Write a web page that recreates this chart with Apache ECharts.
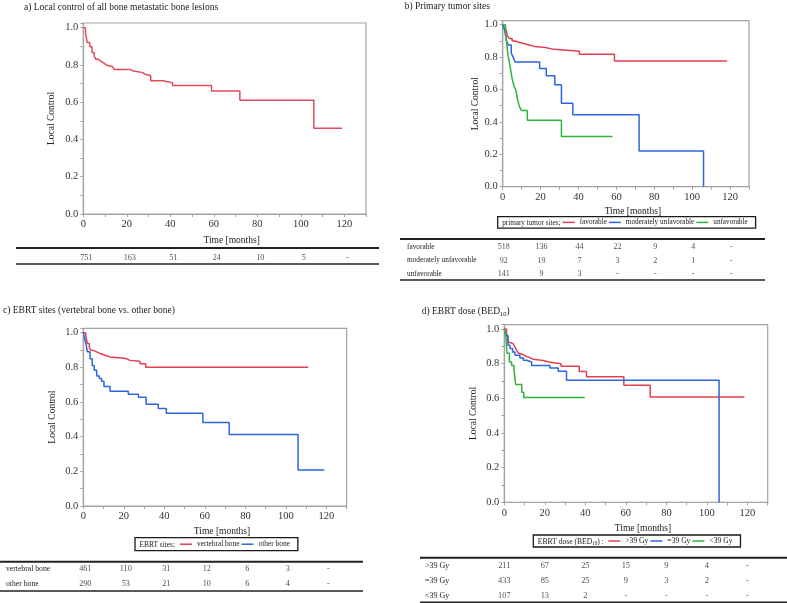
<!DOCTYPE html>
<html><head><meta charset="utf-8">
<script src="https://cdn.jsdelivr.net/npm/echarts@6/dist/echarts.min.js"></script>
<style>html,body{margin:0;padding:0;background:#fff}#c{width:787px;height:603px}</style>
</head><body><div id="c"></div>
<script>
// ---------- DATA ----------
const xTicks = [0, 20, 40, 60, 80, 100, 120];

// a) all lesions
const allLesions = [[0,1],[1,0.973],[1.8,0.92],[3,0.897],[4,0.867],[5,0.847],[5.8,0.83],[7,0.82],[8,0.81],[9.5,0.80],[10.5,0.79],[13.5,0.78],[14.3,0.775],[21.8,0.768],[22.8,0.76],[27,0.75],[28.5,0.742],[31,0.715],[36.6,0.705],[41,0.69],[59,0.66],[72,0.61],[106,0.46],[119,0.46]];

// b) primary tumor sites
const favorable = [[0,1],[1,0.98],[2,0.96],[2.5,0.93],[3.5,0.915],[5,0.90],[6.5,0.89],[9,0.883],[11.5,0.875],[14,0.865],[17,0.86],[22.5,0.848],[27,0.84],[28,0.836],[40.5,0.818],[59,0.776],[118.5,0.776]];
const modUnfavorable = [[0,1],[1,0.965],[2,0.90],[3,0.875],[4.5,0.825],[5.5,0.80],[6.5,0.77],[19.5,0.73],[23,0.685],[27.5,0.63],[31,0.515],[37,0.445],[72,0.22],[106,0]];
const unfavorable = [[0,1],[1.5,0.955],[2,0.90],[2.5,0.84],[3,0.80],[4,0.735],[5,0.665],[6,0.62],[7,0.595],[8,0.53],[9,0.49],[10,0.47],[13,0.41],[31,0.31],[58,0.31]];

// c) EBRT sites
const vertebral = [[0,1],[1.2,0.985],[2,0.937],[3,0.912],[3.8,0.898],[4.9,0.889],[6.6,0.88],[8.2,0.87],[10.7,0.86],[13.2,0.854],[19,0.85],[21.4,0.84],[23,0.835],[28,0.82],[30.8,0.80],[111,0.80]];
const otherBone = [[0,1],[0.8,0.96],[1.5,0.925],[2,0.89],[3.3,0.85],[4.4,0.81],[5.4,0.783],[6.6,0.75],[7.9,0.735],[9,0.72],[10.2,0.69],[13.2,0.662],[22.2,0.645],[27.2,0.628],[31,0.587],[37,0.563],[41,0.535],[59,0.482],[72,0.413],[106,0.207],[119,0.207]];

// d) EBRT dose
const gt39 = [[0,1],[1.1,0.973],[2,0.925],[2.8,0.915],[4.4,0.906],[5.3,0.896],[6.1,0.877],[6.9,0.862],[7.7,0.852],[9.4,0.842],[10.7,0.835],[12.6,0.825],[14.3,0.818],[19.2,0.81],[22,0.80],[28,0.785],[37,0.755],[40.6,0.725],[59,0.675],[72,0.608],[118.5,0.608]];
const eq39 = [[0,1],[0.8,0.963],[1.8,0.906],[2.8,0.887],[4.1,0.867],[5.3,0.848],[7.7,0.833],[9.4,0.82],[11,0.81],[13.5,0.79],[22.5,0.775],[26.6,0.757],[30.7,0.704],[106,0]];
const lt39 = [[0,1],[0.8,0.96],[1.3,0.86],[2.5,0.81],[3.6,0.79],[4.8,0.765],[5.6,0.68],[8.6,0.635],[9.6,0.605],[39.7,0.605]];

// numbers at risk
const riskARows = [''];
const riskA = [[751,163,51,24,10,5,'-']];
const riskBRows = ['favorable','moderately unfavorable','unfavorable'];
const riskB = [[518,136,44,22,9,4,'-'],[92,19,7,3,2,1,'-'],[141,9,3,'-','-','-','-']];
const riskCRows = ['vertebral bone','other bone'];
const riskC = [[461,110,31,12,6,3,'-'],[290,53,21,10,6,4,'-']];
const riskDRows = ['>39 Gy','=39 Gy','<39 Gy'];
const riskD = [[211,67,25,15,9,4,'-'],[433,85,25,9,3,2,'-'],[107,13,2,'-','-','-','-']];

// ---------- LAYOUT / STYLE ----------
const FONT = '"Liberation Serif","Times New Roman",serif';
const RED = '#e2404f', BLUE = '#2c66e0', GREEN = '#2fb53a';

const panels = [
  { title: 'a) Local control of all bone metastatic bone lesions', titlePos: [24, 2],
    plot: {left: 83.3, top: 23, width: 282.7, height: 191}, yGap: 27, xGap: 20,
    series: [{name: 'all lesions', data: allLesions, color: '#e24a5a'}],
    table: {left: 86.3, top: 252, width: 282.7, height: 12, rows: riskARows, values: riskA, labelX: 16, font: 7.6, numFont: 8.2},
    lines: [[16, 379, 248, 2], [16, 379, 264, 1.5]] },
  { title: 'b) Primary tumor sites', titlePos: [404.7, 1],
    plot: {left: 502.7, top: 20.7, width: 246.3, height: 166}, yGap: 22, xGap: 18.5,
    series: [{name: 'favorable', data: favorable, color: RED}, {name: 'moderately unfavorable', data: modUnfavorable, color: BLUE}, {name: 'unfavorable', data: unfavorable, color: GREEN}],
    legend: {prefix: 'primary tumor sites;', left: 497.7, top: 216.7, padL: 65, padV: 2.2, font: 7.2},
    table: {left: 503.7, top: 240.25, width: 246.3, height: 40.5, rows: riskBRows, values: riskB, labelX: 407, font: 7.3, numFont: 8},
    lines: [[400, 765, 239, 2], [400, 765, 280, 1.5]] },
  { title: 'c) EBRT sites (vertebral bone vs. other bone)', titlePos: [3, 305.5],
    plot: {left: 83.3, top: 328.3, width: 263.4, height: 177.7}, yGap: 26, xGap: 19,
    series: [{name: 'vertebral bone', data: vertebral, color: RED}, {name: 'other bone', data: otherBone, color: BLUE}],
    legend: {prefix: 'EBRT sites;', left: 135, top: 537.7, padL: 45, padV: 3, font: 7.4},
    table: {left: 85.3, top: 562, width: 263.4, height: 29.4, rows: riskCRows, values: riskC, labelX: 6, font: 7.7, numFont: 8.2},
    lines: [[0, 363, 561.7, 2], [0, 363, 591, 1.5]] },
  { titleRich: true, titlePos: [421.7, 305],
    plot: {left: 504.3, top: 324.7, width: 263.4, height: 177.6}, yGap: 25.5, xGap: 20.5,
    series: [{name: '>39 Gy', data: gt39, color: RED}, {name: '=39 Gy', data: eq39, color: BLUE}, {name: '<39 Gy', data: lt39, color: GREEN}],
    legend: {prefixRich: true, left: 533.3, top: 535, padL: 75, padV: 2, font: 7.6},
    table: {left: 504.3, top: 558.6, width: 263.4, height: 44.5, rows: riskDRows, values: riskD, labelX: 425, font: 8, numFont: 8.4},
    lines: [[420, 787, 557.7, 2], [420, 787, 602.2, 1.5]] }
];

const grid = [], xAxis = [], yAxis = [], series = [], legend = [], title = [], graphic = [];
const axisColor = '#a3a3a3', labelColor = '#333';

panels.forEach((p, i) => {
  const gP = grid.length;
  grid.push(Object.assign({show: true, borderColor: axisColor, borderWidth: 1.2, outerBoundsMode: 'none', containLabel: false}, p.plot));
  xAxis.push({gridIndex: gP, type: 'value', min: 0, max: 130, interval: 10,
    axisLine: {show: true, lineStyle: {color: axisColor, width: 1.2}},
    axisTick: {show: true, length: 3, lineStyle: {color: axisColor}},
    splitLine: {show: false},
    axisLabel: {margin: 5, color: labelColor, fontFamily: FONT, fontSize: 10.5,
      formatter: v => (Math.round(v) % 20 === 0 && v <= 120) ? String(Math.round(v)) : ''},
    name: 'Time [months]', nameLocation: 'middle', nameGap: p.xGap + 1,
    nameTextStyle: {color: '#222', fontFamily: FONT, fontSize: 9.5, padding: [0, 0, 0, 14]}});
  yAxis.push({gridIndex: gP, type: 'value', min: 0, max: 1.025, interval: 0.1,
    axisLine: {show: true, lineStyle: {color: axisColor, width: 1.2}},
    axisTick: {show: true, length: 3, lineStyle: {color: axisColor}},
    splitLine: {show: false},
    axisLabel: {margin: 5, color: labelColor, fontFamily: FONT, fontSize: 10.5,
      formatter: v => (Math.round(v * 10) % 2 === 0 && v <= 1.0001) ? v.toFixed(1) : ''},
    name: 'Local Control', nameLocation: 'middle', nameGap: p.yGap,
    nameTextStyle: {color: '#222', fontFamily: FONT, fontSize: 9.5}});
  p.series.forEach(s => {
    series.push({type: 'line', name: s.name, step: 'end', data: s.data, xAxisIndex: gP, yAxisIndex: gP,
      showSymbol: false, symbol: 'none', color: s.color, lineStyle: {color: s.color, width: 1.5}, silent: true, animation: false});
  });

  // title
  if (p.titleRich) {
    title.push({text: '{t|d) EBRT dose (BED}{s|10}{t|)}', left: p.titlePos[0], top: p.titlePos[1], padding: 0,
      textStyle: {fontWeight: 'normal', rich: {t: {fontFamily: FONT, fontSize: 9.5, fontWeight: 'normal', color: '#222', lineHeight: 13},
                         s: {fontFamily: FONT, fontSize: 6.5, fontWeight: 'normal', color: '#222', lineHeight: 8, verticalAlign: 'bottom'}}}});
  } else {
    title.push({text: p.title, left: p.titlePos[0], top: p.titlePos[1], padding: 0,
      textStyle: {fontFamily: FONT, fontSize: 9.5, fontWeight: 'normal', color: '#222'}});
  }

  // legend
  if (p.legend) {
    const L = p.legend;
    legend.push({left: L.left, top: L.top, orient: 'horizontal', data: p.series.map(s => s.name),
      icon: 'rect', itemWidth: 12, itemHeight: 1.5, itemGap: 2, selectedMode: false,
      padding: [L.padV, 8, L.padV, L.padL], borderColor: '#1a1a1a', borderWidth: 1.3,
      textStyle: {fontFamily: FONT, fontSize: L.font, color: '#222'}});
    if (L.prefixRich) {
      graphic.push({type: 'text', left: L.left + 4.5, top: L.top + L.padV + 0.5,
        style: {text: '{t|EBRT dose (BED}{s|10}{t|) :}', rich: {t: {fontFamily: FONT, fontSize: L.font, fill: '#222', lineHeight: 10},
          s: {fontFamily: FONT, fontSize: 5.2, fill: '#222', lineHeight: 6, verticalAlign: 'bottom'}}}});
    } else {
      graphic.push({type: 'text', left: L.left + 4.5, top: L.top + L.padV + 1,
        style: {text: L.prefix, fontFamily: FONT, fontSize: L.font, fill: '#222'}});
    }
  }

  // numbers-at-risk table
  const T = p.table;
  const gT = grid.length;
  grid.push({show: false, left: T.left, top: T.top, width: T.width, height: T.height, outerBoundsMode: 'none', containLabel: false});
  xAxis.push({gridIndex: gT, type: 'value', min: 0, max: 130, show: false});
  yAxis.push({gridIndex: gT, type: 'category', data: T.rows, inverse: true,
    axisLine: {show: false}, axisTick: {show: false}, splitLine: {show: false},
    axisLabel: {show: true, align: 'left', margin: T.left - T.labelX, color: '#222', fontFamily: FONT, fontSize: T.font}});
  T.rows.forEach((r, ri) => {
    const vals = T.values[ri];
    series.push({type: 'scatter', xAxisIndex: gT, yAxisIndex: gT, symbolSize: 1, silent: true, animation: false,
      itemStyle: {color: 'rgba(0,0,0,0)'},
      data: xTicks.map((x, k) => [x, ri]),
      label: {show: true, position: 'inside', color: '#222', fontFamily: FONT, fontSize: T.numFont,
        formatter: q => String(vals[q.dataIndex])}});
  });
  p.lines.forEach(l => {
    graphic.push({type: 'line', shape: {x1: l[0], y1: l[2], x2: l[1], y2: l[2]},
      style: {stroke: '#222', lineWidth: l[3]}, silent: true});
  });
});

const chart = echarts.init(document.getElementById('c'), null, {renderer: 'canvas'});
chart.setOption({backgroundColor: '#fff', animation: false, title, grid, xAxis, yAxis, series, legend, graphic});
</script>
</body></html>
